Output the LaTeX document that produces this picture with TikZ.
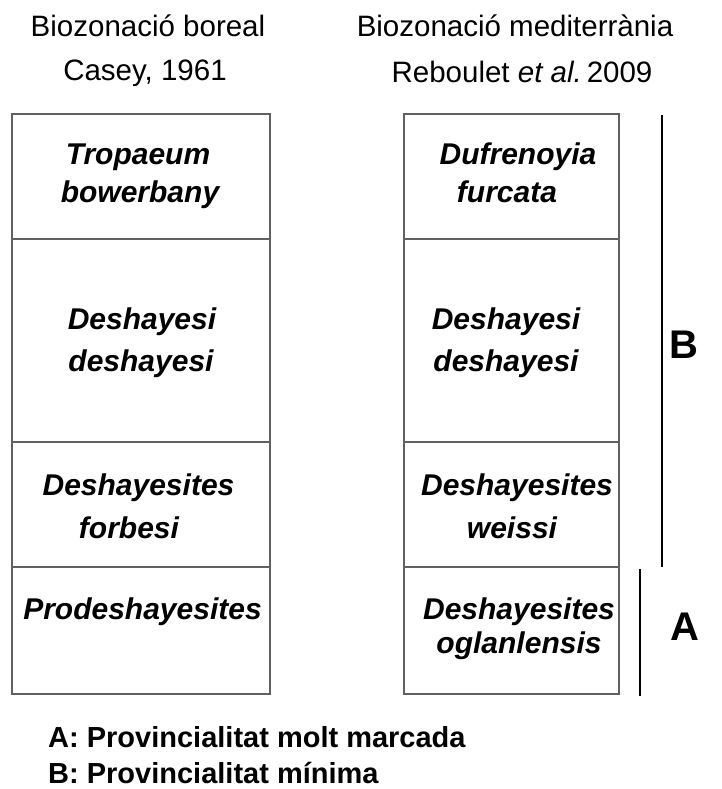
\documentclass[tikz,border=0pt]{standalone}
\usepackage{fontspec}
\setmainfont{Liberation Sans}
\begin{document}
\begin{tikzpicture}[x=1pt,y=1pt,
  cell/.style={draw=black!62, line width=1.8pt, inner sep=0pt, outer sep=0pt},
  zone/.style={anchor=base, inner sep=0pt, font=\fontsize{30}{36}\selectfont\bfseries\itshape},
  head/.style={anchor=base, inner sep=0pt, font=\fontsize{29.5}{35}\selectfont},
  legend/.style={anchor=base west, inner sep=0pt, font=\fontsize{29}{35}\selectfont\bfseries},
  big/.style={anchor=center, inner sep=0pt, font=\fontsize{40}{48}\selectfont\bfseries},
  bar/.style={line width=2.4pt, black}]
\useasboundingbox (0,0) rectangle (721,-789);
\fill[white] (0,0) rectangle (721,-789);

% headers
\node[head] (h1) at (148,-37) {Biozonació boreal};
\node[head] (h2) at (145,-81) {Casey, 1961};
\node[head] (h3) at (515,-37) {Biozonació mediterrània};
\node[head] (h4) at (522,-83) {Reboulet \textit{et al.}\,2009};

% left column cells
\draw[cell] (12,-114) rectangle (270,-239);
\draw[cell] (12,-239) rectangle (270,-442);
\draw[cell] (12,-442) rectangle (270,-567);
\draw[cell] (12,-567) rectangle (270,-694);
% right column cells
\draw[cell] (404,-114) rectangle (619,-239);
\draw[cell] (404,-239) rectangle (619,-442);
\draw[cell] (404,-442) rectangle (619,-567);
\draw[cell] (404,-567) rectangle (619,-694);

% left column labels
\node[zone] (l1a) at (138,-164) {Tropaeum};
\node[zone] (l1b) at (140,-202) {bowerbany};
\node[zone] (l2a) at (142,-329) {Deshayesi};
\node[zone] (l2b) at (141,-371) {deshayesi};
\node[zone] (l3a) at (138.5,-495) {Deshayesites};
\node[zone] (l3b) at (129,-538) {forbesi};
\node[zone] (l4a) at (142.5,-619) {Prodeshayesites};

% right column labels
\node[zone] (r1a) at (518,-164) {Dufrenoyia};
\node[zone] (r1b) at (507,-202) {furcata};
\node[zone] (r2a) at (506,-329) {Deshayesi};
\node[zone] (r2b) at (506,-371) {deshayesi};
\node[zone] (r3a) at (517,-495) {Deshayesites};
\node[zone] (r3b) at (512,-538) {weissi};
\node[zone] (r4a) at (519,-619) {Deshayesites};
\node[zone] (r4b) at (519,-653) {oglanlensis};

% range bars
\coordinate (btop) at (662,-115);
\coordinate (bbot) at (662,-567);
\coordinate (atop) at (640,-569);
\coordinate (abot) at (640,-696);
\draw[bar] (btop) -- (bbot);
\draw[bar] (atop) -- (abot);
\node[big] (B) at (684,-345) {B};
\node[big] (A) at (685,-626.5) {A};

% legend
\node[legend] (la) at (48,-747) {A: Provincialitat molt marcada};
\node[legend] (lb) at (48,-783) {B: Provincialitat mínima};
\end{tikzpicture}
\end{document}
